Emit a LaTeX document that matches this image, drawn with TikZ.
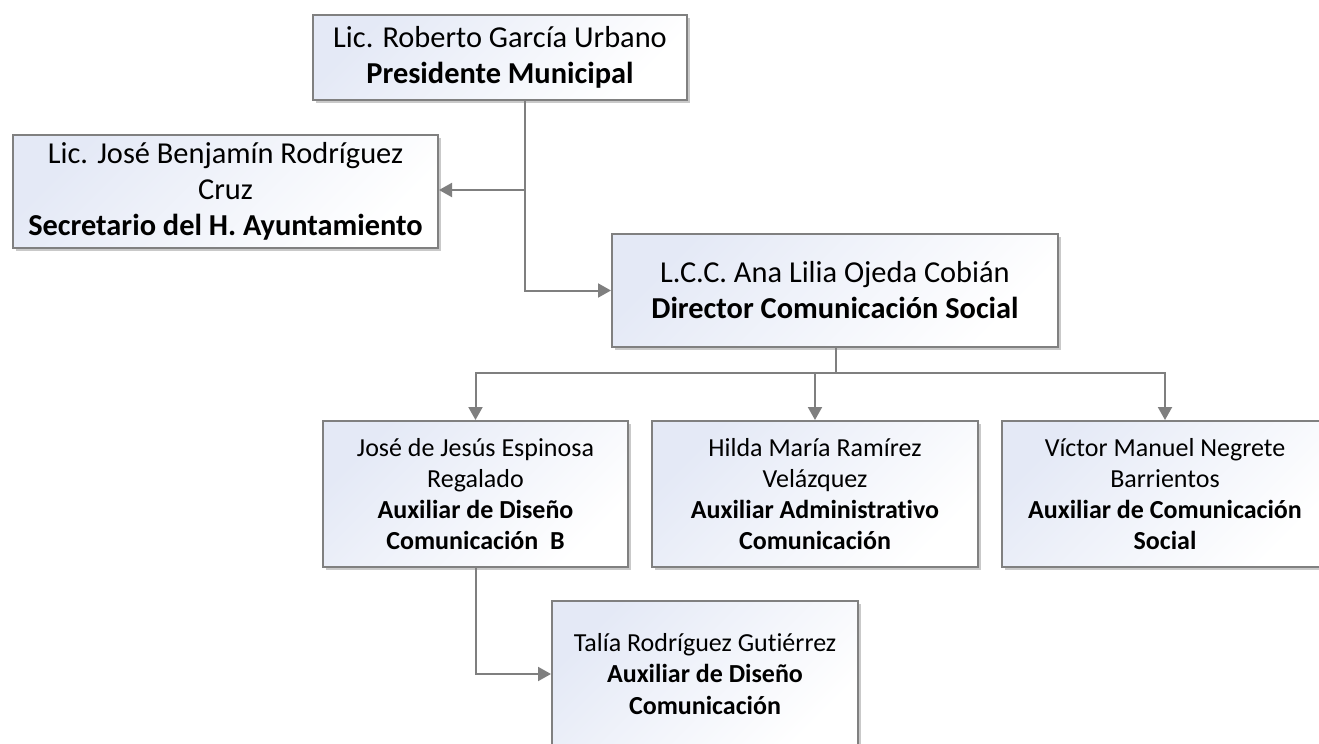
\documentclass[tikz,border=0pt]{standalone}
\usepackage{fontspec}
\setmainfont{Carlito}[Ligatures=NoCommon]
\usepackage{xcolor}
\usepackage{tikz}
\usetikzlibrary{arrows.meta, positioning, calc, shadows}
\definecolor{orgblue}{HTML}{E4E9F6}
\definecolor{orggray}{HTML}{808080}
\definecolor{orgline}{HTML}{7F7F7F}
\tikzset{
  obox/.style={draw=orggray, line width=1pt, top color=orgblue, bottom color=white, shading angle=45, drop shadow={shadow xshift=1.3pt, shadow yshift=-1.3pt, opacity=0.35, fill=black!60}, align=center, inner sep=3pt, font=\fontsize{15.2}{18}\selectfont},
  osmall/.style={obox, font=\fontsize{13}{15.6}\selectfont},
  oflow/.style={-{Triangle[length=6.5pt, width=7pt]}, line width=1pt, orgline},
  oline/.style={line width=1pt, orgline},
}
\begin{document}
\begin{tikzpicture}[x=0.5pt, y=-0.5pt]
    \clip (0,0) rectangle (1319,744);
    \fill[white] (0,0) rectangle (1319,744);
    \node[obox, minimum width=187pt, minimum height=42.5pt] (pres) at (500,57.5) {Lic. Roberto García Urbano\\\textbf{Presidente Municipal}};
    \node[obox, minimum width=212.5pt, minimum height=56.5pt] (sec) at (225.5,191.5) {Lic. José Benjamín Rodríguez\\Cruz\\\textbf{Secretario del H. Ayuntamiento}};
    \node[obox, minimum width=223pt, minimum height=56.5pt] (dir) at (835,290.5) {L.C.C. Ana Lilia Ojeda Cobián\\\textbf{Director Comunicación Social}};
    \node[osmall, minimum width=152.5pt, minimum height=73pt] (jose) at (475.5,494) {José de Jesús Espinosa\\Regalado\\\textbf{Auxiliar de Diseño}\\\textbf{Comunicación\ \ B}};
    \node[osmall, minimum width=163pt, minimum height=73pt] (hilda) at (815,494) {Hilda María Ramírez\\Velázquez\\\textbf{Auxiliar Administrativo}\\\textbf{Comunicación}};
    \node[osmall, minimum width=163pt, minimum height=73pt] (victor) at (1165,494) {Víctor Manuel Negrete\\Barrientos\\\textbf{Auxiliar de Comunicación}\\\textbf{Social}};
    \node[osmall, minimum width=153pt, minimum height=73pt] (talia) at (705,674) {Talía Rodríguez Gutiérrez\\\textbf{Auxiliar de Diseño}\\\textbf{Comunicación}};
    \coordinate (jsec) at (525,190);
    \coordinate (bus) at (836,373);
    \draw[oflow] (pres.south -| jsec) |- (dir.west);
    \draw[oflow] (jsec) -- (sec.east |- jsec);
    \draw[oline] (dir.south -| bus) -- (bus);
    \foreach \n in {jose,hilda,victor}
      \draw[oflow] (bus) -| (\n.north);
    \draw[oflow] (jose.south) |- (talia.west);
\end{tikzpicture}
\end{document}
